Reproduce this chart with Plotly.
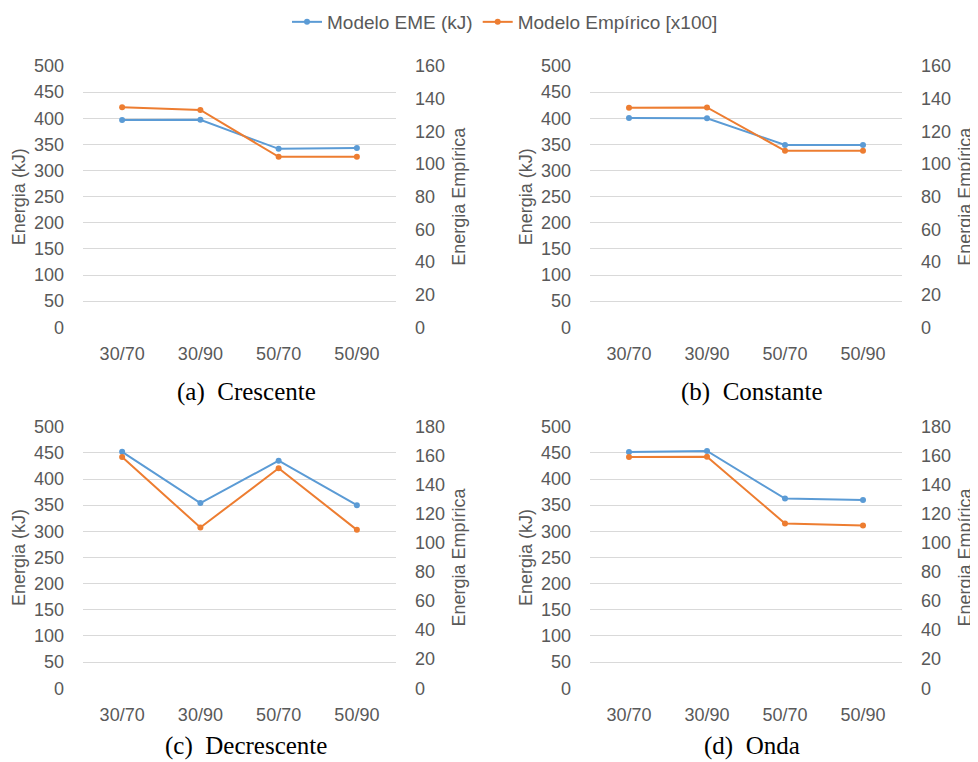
import plotly.graph_objects as go

categories = ["30/70", "30/90", "50/70", "50/90"]

eme_crescente = [396.5, 397, 341.5, 343]
emp_crescente = [134.8, 133.1, 104.4, 104.4]

eme_constante = [400.5, 400, 349, 349]
emp_constante = [134.5, 134.6, 108.1, 108.1]

eme_decrescente = [452, 354, 435, 350]
emp_decrescente = [159.2, 110.6, 151.4, 109]

eme_onda = [451.5, 453.5, 362.5, 360]
emp_onda = [159.1, 159.3, 113.4, 112]

captions = ["(a)\u00a0\u00a0Crescente", "(b)\u00a0\u00a0Constante",
            "(c)\u00a0\u00a0Decrescente", "(d)\u00a0\u00a0Onda"]
right_max = [160, 160, 180, 180]

BLUE = "#5B9BD5"
ORANGE = "#ED7D31"
GRID = "#D9D9D9"
TXT = "#595959"
W, H = 978, 762
OFF = 8  # page body margin offset


def px(x):
    return (x - OFF) / W


def py(y):
    return 1 - (y - OFF) / H


panels = [
    (eme_crescente, emp_crescente),
    (eme_constante, emp_constante),
    (eme_decrescente, emp_decrescente),
    (eme_onda, emp_onda),
]
# pixel boxes of plot areas (x0, x1, y0, y1)
boxes = [
    (83, 396, 66, 327.3),
    (590, 902, 66, 327.3),
    (83, 396, 426.7, 688.2),
    (590, 902, 426.7, 688.2),
]
caption_pos = [(246, 392), (752, 392), (246, 746), (752, 746)]

fig = go.Figure()
font_main = "Liberation Sans, Arial, Helvetica, sans-serif"

layout = dict(
    width=W, height=H,
    margin=dict(l=0, r=0, t=0, b=0, autoexpand=False),
    paper_bgcolor="white", plot_bgcolor="white",
    font=dict(family=font_main, size=18, color=TXT),
    showlegend=True,
    legend=dict(orientation="h", x=px(505), xanchor="center", y=py(22), yanchor="middle",
                font=dict(size=19, color=TXT), itemwidth=30, tracegroupgap=0,
                bgcolor="rgba(0,0,0,0)"),
    annotations=[],
)

for i, ((eme, emp), (x0, x1, y0, y1)) in enumerate(zip(panels, boxes)):
    xa = "x" if i == 0 else f"x{i+1}"
    ya_l = f"y{2*i+1}" if i > 0 else "y"
    ya_r = f"y{2*i+2}"
    xkey = "xaxis" if i == 0 else f"xaxis{i+1}"
    ylkey = "yaxis" if i == 0 else f"yaxis{2*i+1}"
    yrkey = f"yaxis{2*i+2}"
    xdom = [px(x0), px(x1)]
    ydom = [py(y1), py(y0)]

    fig.add_trace(go.Scatter(x=categories, y=eme, mode="lines+markers",
                             name="Modelo EME (kJ)", legendgroup="eme", showlegend=(i == 0),
                             line=dict(color=BLUE, width=2), marker=dict(color=BLUE, size=6),
                             xaxis=xa, yaxis=ya_l))
    fig.add_trace(go.Scatter(x=categories, y=emp, mode="lines+markers",
                             name="Modelo Empírico [x100]", legendgroup="emp", showlegend=(i == 0),
                             line=dict(color=ORANGE, width=2), marker=dict(color=ORANGE, size=6),
                             xaxis=xa, yaxis=ya_r))

    layout[xkey] = dict(domain=xdom, anchor=ya_l, type="category",
                        range=[-0.5, 3.5], showgrid=False, showline=False, zeroline=False,
                        ticks="", ticklabelstandoff=14, tickfont=dict(size=18, color=TXT))
    layout[ylkey] = dict(domain=ydom, anchor=xa, range=[0, 500], dtick=50, tick0=0,
                         showgrid=True, gridcolor=GRID, gridwidth=1, zeroline=False,
                         showline=False, ticks="", ticklabelstandoff=18,
                         tickfont=dict(size=18, color=TXT),
                         title=dict(text="Energia (kJ)", standoff=3,
                                    font=dict(size=18, color=TXT)))
    layout[yrkey] = dict(domain=ydom, anchor=xa, overlaying=ya_l, side="right",
                         range=[0, right_max[i]], dtick=20, tick0=0,
                         showgrid=False, zeroline=False, showline=False, ticks="",
                         ticklabelstandoff=18, tickfont=dict(size=18, color=TXT),
                         title=dict(text="Energia Empírica", standoff=8,
                                    font=dict(size=18, color=TXT)))
    cx, cy = caption_pos[i]
    layout["annotations"].append(dict(
        text=captions[i], x=px(cx), y=py(cy), xref="paper", yref="paper",
        xanchor="center", yanchor="middle", showarrow=False,
        font=dict(family="Liberation Serif, Times New Roman, serif", size=25, color="black")))

fig.update_layout(**layout)
fig.write_html("out.html")
